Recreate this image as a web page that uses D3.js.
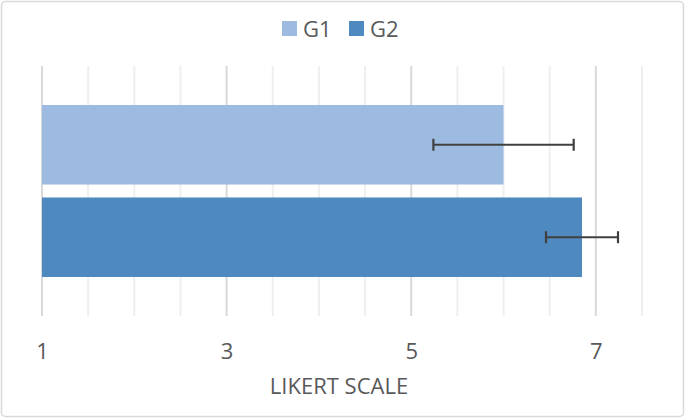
<!DOCTYPE html>
<html>
<head>
<meta charset="utf-8">
<script src="https://cdn.jsdelivr.net/npm/d3@7"></script>
<style>
  html, body { margin: 0; padding: 0; background: #fff; }
  svg { display: block; font-family: "Open Sans", "Liberation Sans", sans-serif; }
</style>
</head>
<body>
<svg id="chart" width="685" height="418"></svg>
<script>
// data
const groups = ['G1', 'G2'];
const means = [6.0, 6.85];
const errs = [0.76, 0.39];
const colors = ['#9dbbe1', '#4e89bf'];
const tickVals = [1, 3, 5, 7];

(function () {
  const svg = d3.select('#chart');
  const W = 685, H = 418;
  const font = '"Open Sans", "Liberation Sans", sans-serif';

  // outer border
  svg.append('rect')
    .attr('x', 1.5).attr('y', 1.5).attr('width', W - 3).attr('height', H - 3)
    .attr('rx', 4).attr('fill', '#fff').attr('stroke', '#d9d9d9').attr('stroke-width', 1.5);

  const gridTop = 66, gridBottom = 316;
  const x = d3.scaleLinear().domain([1, 7.5]).range([42, 642]);
  const y = d3.scaleBand().domain(groups).range([105, 277]).paddingInner(0.14).paddingOuter(0);

  // minor gridlines every 0.5
  const minor = d3.range(1.5, 7.51, 0.5).filter(v => !tickVals.includes(v));
  svg.append('g').selectAll('line').data(minor).join('line')
    .attr('x1', d => x(d)).attr('x2', d => x(d))
    .attr('y1', gridTop).attr('y2', gridBottom)
    .attr('stroke', '#efefef').attr('stroke-width', 2);

  svg.append('g').selectAll('line').data(tickVals).join('line')
    .attr('x1', d => x(d)).attr('x2', d => x(d))
    .attr('y1', gridTop).attr('y2', gridBottom)
    .attr('stroke', '#d9d9d9').attr('stroke-width', 2);

  // bars
  svg.append('g').selectAll('rect').data(groups).join('rect')
    .attr('x', x(1))
    .attr('y', d => y(d))
    .attr('width', (d, i) => x(means[i]) - x(1))
    .attr('height', y.bandwidth())
    .attr('fill', (d, i) => colors[i]);

  // error bars
  const eb = svg.append('g').attr('stroke', '#404040').attr('stroke-width', 2.2);
  groups.forEach((g, i) => {
    const cy = y(g) + y.bandwidth() / 2;
    const lo = x(means[i] - errs[i]), hi = x(means[i] + errs[i]);
    eb.append('line').attr('x1', lo).attr('x2', hi).attr('y1', cy).attr('y2', cy);
    eb.append('line').attr('x1', lo).attr('x2', lo).attr('y1', cy - 6).attr('y2', cy + 6);
    eb.append('line').attr('x1', hi).attr('x2', hi).attr('y1', cy - 6).attr('y2', cy + 6);
  });

  // x axis labels
  const axis = d3.axisBottom(x).tickValues(tickVals).tickFormat(d3.format('d')).tickSize(0).tickPadding(0);
  const ax = svg.append('g').attr('transform', `translate(0,${gridBottom})`).call(axis);
  ax.select('.domain').remove();
  ax.selectAll('text')
    .attr('y', 43).attr('dy', 0)
    .attr('font-size', 22).attr('fill', '#595959')
    .attr('font-family', font);

  svg.append('text')
    .attr('x', 339).attr('y', 394).attr('text-anchor', 'middle')
    .attr('font-size', 22).attr('fill', '#595959')
    .text('LIKERT SCALE');

  // legend
  const leg = svg.append('g');
  const legX = [282, 349];
  groups.forEach((g, i) => {
    leg.append('rect').attr('x', legX[i]).attr('y', 21).attr('width', 15).attr('height', 15).attr('fill', colors[i]);
    leg.append('text').attr('x', legX[i] + 21).attr('y', 37)
      .attr('font-size', 22).attr('fill', '#595959').text(g);
  });
})();
</script>
</body>
</html>
